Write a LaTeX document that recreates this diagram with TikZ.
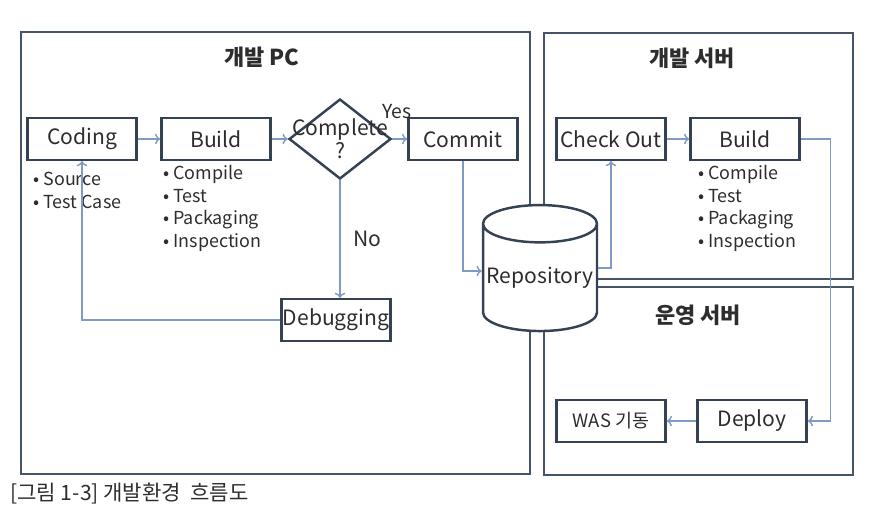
\documentclass[tikz,border=0pt]{standalone}
\usepackage{fontspec}
\setmainfont{Noto Sans CJK KR}
\usetikzlibrary{shapes.geometric,arrows.meta}

\definecolor{boxcol}{RGB}{52,66,84}
\definecolor{framecol}{RGB}{70,84,104}
\definecolor{arrowcol}{RGB}{125,155,195}
\definecolor{textcol}{RGB}{45,45,45}

\begin{document}
\begin{tikzpicture}[x=0.02cm, y=-0.02cm, text=textcol,
  frame/.style={draw=framecol, line width=1.3pt},
  box/.style={rectangle, draw=boxcol, line width=1.4pt, fill=white, minimum width=2.18cm, minimum height=0.83cm, inner sep=0pt, font=\fontsize{12}{14}\selectfont},
  flow/.style={-{To[length=3pt,width=6pt]}, draw=arrowcol, line width=0.8pt},
  bullets/.style={align=left, anchor=north west, inner sep=0pt, font=\fontsize{10.2}{12.9}\selectfont},
  title/.style={font=\bfseries\fontsize{12.5}{14}\selectfont}]
  \useasboundingbox (0,0) rectangle (871,519);

  % Frames
  \draw[frame] (21,32) rectangle (530,474);
  \draw[frame] (544,33) rectangle (853,279);
  \draw[frame] (544,287) rectangle (853,475);
  \node[title] (pctitle) at (262,57) {개발 PC};
  \node[title] (devtitle) at (692,58) {개발 서버};
  \node[title] (opstitle) at (698,315) {운영 서버};

  % Nodes with absolute positioning
  \node[box] (coding) at (82,139) {Coding};
  \node[box] (build) at (216,139) {Build};
  \node[diamond, draw=boxcol, line width=1.4pt, minimum width=2.04cm, minimum height=1.6cm, inner sep=0pt,
        label={[align=center, font=\fontsize{12}{11}\selectfont]center:Complete\\?}] (decision) at (340,139) {};
  \node[box] (commit) at (463,139) {Commit};
  \node[box] (debug) at (336,320) {Debugging};
  \node[cylinder, shape border rotate=90, draw=boxcol, fill=white, line width=1.4pt, aspect=0.35,
        minimum width=2.28cm, minimum height=2.52cm, inner sep=0pt, font=\fontsize{12}{14}\selectfont] (repo) at (540,278) {Repository};
  \coordinate (repoin) at ([yshift=0.14cm]repo.center);
  \coordinate (repoout) at ([yshift=0.2cm]repo.center);
  \node[box] (checkout) at (611,139) {Check Out};
  \node[box] (build2) at (745,139) {Build};
  \node[box] (deploy) at (752,421) {Deploy};
  \node[box, font=\fontsize{10.5}{12}\selectfont] (was) at (611,421) {WAS 기동};

  % Lists
  \node[bullets] (codinglist) at (33,172) {• Source\\• Test Case};
  \node[bullets] (buildlist) at (163,165) {• Compile\\• Test\\• Packaging\\• Inspection};
  \node[bullets] (build2list) at (698,165) {• Compile\\• Test\\• Packaging\\• Inspection};

  % Arrows
  \draw[flow] (coding) -- (build);
  \draw[flow] (build) -- (decision);
  \draw[flow] (decision) -- (commit) node[pos=0.3, above=8pt, font=\fontsize{11}{12}\selectfont] {Yes};
  \draw[flow] (decision.south) -- (decision.south |- debug.north) node[midway, right=4pt, font=\fontsize{12}{14}\selectfont] {No};
  \draw[flow] (debug.west) -| (coding.south);
  \draw[flow] (commit.south) |- (repo.west |- repoin);
  \draw[flow] (repo.east |- repoout) -| (checkout.south);
  \draw[flow] (checkout) -- (build2);
  \draw[flow] (build2.east) -- ++(30,0) |- (deploy.east);
  \draw[flow] (deploy) -- (was);

  % Caption
  \node[anchor=west, inner sep=0pt, font=\fontsize{12}{14}\selectfont] (caption) at (10,494) {[그림 1-3] 개발환경\ \ 흐름도};
\end{tikzpicture}
\end{document}
